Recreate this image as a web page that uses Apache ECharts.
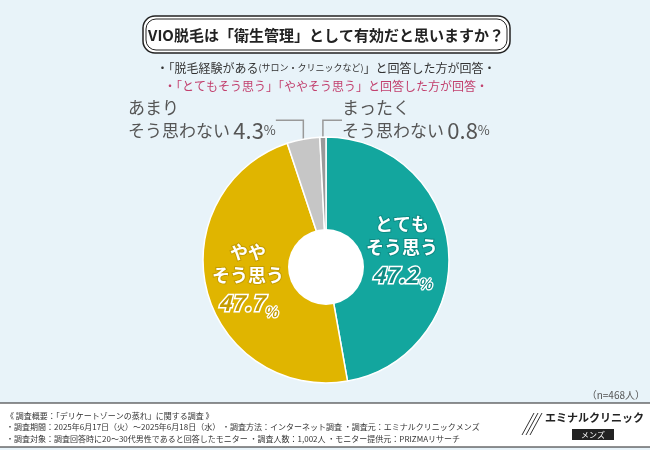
<!DOCTYPE html>
<html>
<head>
<meta charset="utf-8">
<script src="https://cdn.jsdelivr.net/npm/echarts@6/dist/echarts.min.js"></script>
<style>
  html, body { margin: 0; padding: 0; background: #e8f3f9; }
  #main { width: 650px; height: 450px; }
</style>
</head>
<body>
<div id="main"></div>
<script>
// data
const names = ['とても\nそう思う', 'やや\nそう思う', 'あまり\nそう思わない', 'まったく\nそう思わない'];
const values = [47.2, 47.7, 4.3, 0.8];
const colors = ['#13a69e', '#e0b500', '#c6c6c6', '#9a9a9a'];
const sampleNote = '（n=468人）';

const FONT = '"Noto Sans CJK JP", "Noto Sans", sans-serif';

const chart = echarts.init(document.getElementById('main'));

// label styles per slice
function innerLabel(border) {
    return {
        show: true,
        position: 'inside',
        formatter: p => '{t|' + p.name + '}\n{n|' + p.value + '}{p|%}',
        rich: {
            t: { fontFamily: FONT, fontSize: 18, fontWeight: 'bold', color: '#fff', lineHeight: 23, align: 'center',
                 textBorderColor: border, textBorderWidth: 2 },
            n: { fontFamily: FONT, fontSize: 22, fontWeight: 'bold', fontStyle: 'italic', color: border, lineHeight: 32,
                 textBorderColor: '#fff', textBorderWidth: 3 },
            p: { fontFamily: FONT, fontSize: 14, fontWeight: 'bold', fontStyle: 'italic', color: border,
                 textBorderColor: '#fff', textBorderWidth: 2.5, verticalAlign: 'bottom', lineHeight: 32 }
        }
    };
}
function outerLabel() {
    return {
        show: true,
        position: 'outside',
        formatter: p => {
            const parts = p.name.split('\n');
            return '{t|' + parts[0] + '}\n{t|' + parts[1] + '} {n|' + p.value + '}{p|%}';
        },
        rich: {
            t: { fontFamily: FONT, fontSize: 17, color: '#555', lineHeight: 23 },
            n: { fontFamily: FONT, fontSize: 22, color: '#555', lineHeight: 23 },
            p: { fontFamily: FONT, fontSize: 13, color: '#555', lineHeight: 23 }
        }
    };
}

const labelPos = [
    { x: 402, y: 252, align: 'center' },
    { x: 248, y: 280, align: 'center' },
    { x: 128, y: 119, align: 'left' },
    { x: 342, y: 119, align: 'left' }
];

const seriesData = values.map((v, i) => ({
    name: names[i],
    value: v,
    itemStyle: { color: colors[i] },
    label: i < 2 ? innerLabel(i === 0 ? '#0d8b84' : '#c49c00') : outerLabel(),
    labelLine: { show: i >= 2, lineStyle: { color: '#999', width: 1.5 } }
}));

const option = {
    backgroundColor: '#e8f3f9',
    series: [{
        type: 'pie',
        center: [326, 260],
        radius: [0, 123],
        startAngle: 90,
        clockwise: true,
        silent: true,
        animation: false,
        itemStyle: { borderColor: '#fff', borderWidth: 1.5 },
        data: seriesData,
        labelLayout: function (params) {
            const pos = labelPos[params.dataIndex];
            return { x: pos.x, y: pos.y, align: pos.align, verticalAlign: 'middle' };
        }
    }],
    graphic: [
        // hole
        { type: 'circle', shape: { cx: 326, cy: 267, r: 38 }, style: { fill: '#fff' }, z: 10 },
        // title box
        { type: 'rect', shape: { x: 143, y: 16, width: 367, height: 37, r: 12 },
          style: { fill: '#fff', stroke: '#222', lineWidth: 1.5 } },
        { type: 'rect', shape: { x: 146, y: 19, width: 361, height: 31, r: 10 },
          style: { fill: 'none', stroke: '#222', lineWidth: 1 } },
        { type: 'text', x: 326, y: 35, style: { text: 'VIO脱毛は「衛生管理」として有効だと思いますか？', fontFamily: FONT,
          fontSize: 15, fontWeight: 'bold', fill: '#222', align: 'center', verticalAlign: 'middle' } },
        { type: 'text', x: 326, y: 68, style: { text: '・「脱毛経験がある{s|(サロン・クリニックなど)}」と回答した方が回答・', fontFamily: FONT,
          fontSize: 12, fill: '#333', align: 'center', verticalAlign: 'middle',
          rich: { s: { fontFamily: FONT, fontSize: 9, fill: '#333' } } } },
        { type: 'text', x: 326, y: 86, style: { text: '・「とてもそう思う」「ややそう思う」と回答した方が回答・', fontFamily: FONT,
          fontSize: 12, fill: '#c2406e', align: 'center', verticalAlign: 'middle' } },
        { type: 'text', x: 645, y: 395, style: { text: sampleNote, fontFamily: FONT, fontSize: 10, fill: '#555',
          align: 'right', verticalAlign: 'middle' } },
        // footer
        { type: 'rect', shape: { x: 0, y: 403, width: 650, height: 44 }, style: { fill: '#fff' } },
        { type: 'line', shape: { x1: 0, y1: 403, x2: 650, y2: 403 }, style: { stroke: '#222', lineWidth: 1.2 } },
        { type: 'line', shape: { x1: 0, y1: 447, x2: 650, y2: 447 }, style: { stroke: '#222', lineWidth: 1.2 } },
        { type: 'text', x: 6, y: 410, style: { text: '《 調査概要：「デリケートゾーンの蒸れ」に関する調査 》\n・調査期間：2025年6月17日（火）～2025年6月18日（水） ・調査方法：インターネット調査 ・調査元：エミナルクリニックメンズ\n・調査対象：調査回答時に20～30代男性であると回答したモニター ・調査人数：1,002人 ・モニター提供元：PRIZMAリサーチ',
          fontFamily: FONT, fontSize: 8, lineHeight: 11.5, fill: '#333' } },
        { type: 'polyline', shape: { points: [[522, 435], [534, 413]] }, style: { stroke: '#333', lineWidth: 1 } },
        { type: 'polyline', shape: { points: [[526, 435], [538, 413]] }, style: { stroke: '#333', lineWidth: 1 } },
        { type: 'polyline', shape: { points: [[530, 435], [542, 413]] }, style: { stroke: '#333', lineWidth: 1 } },
        { type: 'text', x: 545, y: 418, style: { text: 'エミナルクリニック', fontFamily: FONT, fontSize: 11, fontWeight: 'bold',
          fill: '#222', verticalAlign: 'middle' } },
        { type: 'rect', shape: { x: 572, y: 429, width: 42, height: 11 }, style: { fill: '#222' } },
        { type: 'text', x: 593, y: 434.5, style: { text: 'メンズ', fontFamily: FONT, fontSize: 8, fill: '#fff',
          align: 'center', verticalAlign: 'middle' } }
    ]
};

chart.setOption(option);
</script>
</body>
</html>
